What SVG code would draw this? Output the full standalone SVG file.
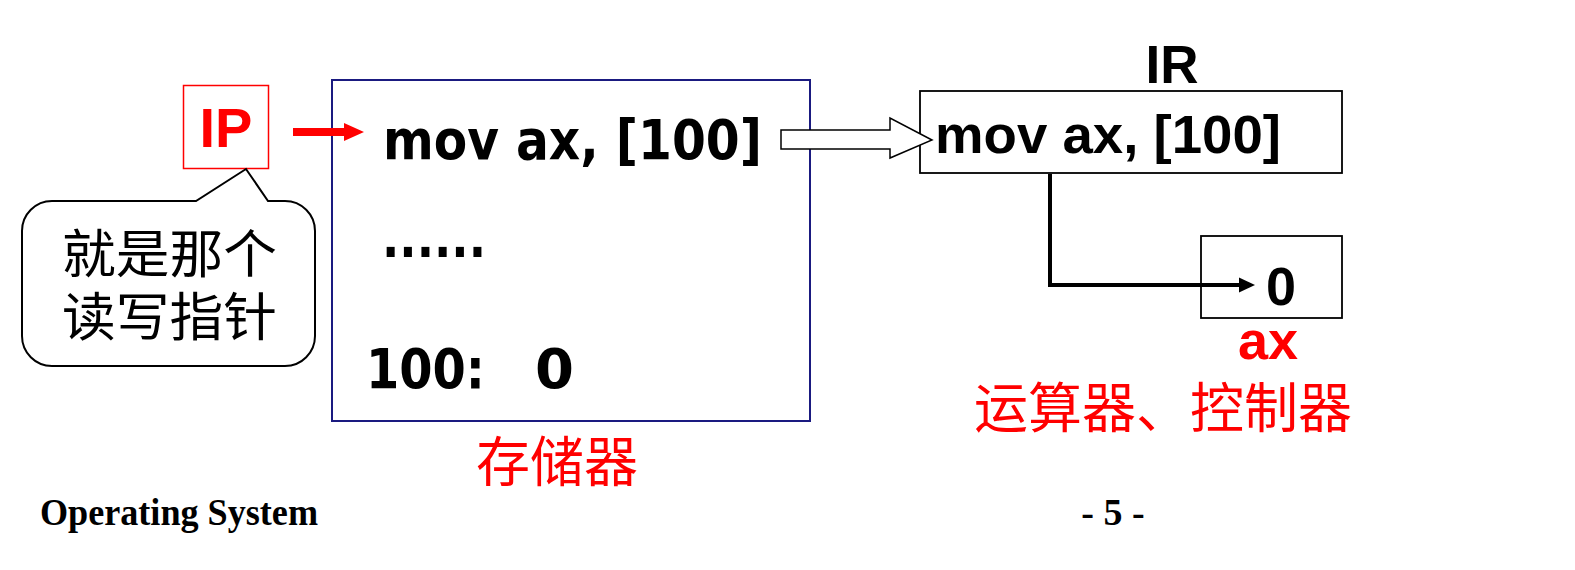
<svg xmlns="http://www.w3.org/2000/svg" width="1575" height="570" viewBox="0 0 1575 570">
<style>
.tah{font-family:"DejaVu Sans","Liberation Sans",sans-serif;font-weight:bold;fill:#000}
.ari{font-family:"Liberation Sans",Arial,sans-serif;font-weight:bold}
.cjk{font-family:"Noto Sans CJK SC","Noto Sans CJK TC",sans-serif}
.red{fill:#ff0000}
.blk{fill:#000}
</style>
<defs>
<marker id="ah" markerWidth="16" markerHeight="16" refX="0" refY="0" viewBox="0 -8 16 16" markerUnits="userSpaceOnUse" orient="auto">
<path d="M0,-7.5 L16,0 L0,7.5 Z" fill="#000"/>
</marker>
</defs>
<rect width="1575" height="570" fill="#fff"/>

<g id="ip">
<rect x="183.5" y="85.5" width="85" height="83" fill="#fff" stroke="#ff0000" stroke-width="1.5"/>
<text class="ari red" x="226" y="147" font-size="56" text-anchor="middle">IP</text>
</g>

<g id="callout">
<path d="M52,201 H196 L246,169 L268,201 H285 A30,30 0 0 1 315,231 V336 A30,30 0 0 1 285,366 H52 A30,30 0 0 1 22,336 V231 A30,30 0 0 1 52,201 Z" fill="#fff" stroke="#000" stroke-width="2"/>
<text class="cjk blk" x="62" y="273" font-size="52" textLength="215" lengthAdjust="spacingAndGlyphs">就是那个</text>
<text class="cjk blk" x="62" y="336" font-size="52" textLength="215" lengthAdjust="spacingAndGlyphs">读写指针</text>
</g>

<g id="memory">
<rect x="332" y="80" width="478" height="341" fill="#fff" stroke="#1a1a80" stroke-width="2"/>
<text class="tah" x="383" y="159" font-size="55" textLength="379" lengthAdjust="spacingAndGlyphs">mov ax, [100]</text>
<text class="tah" x="382" y="257" font-size="54" textLength="104" lengthAdjust="spacingAndGlyphs">......</text>
<text class="tah" x="366" y="388" font-size="56" textLength="119" lengthAdjust="spacingAndGlyphs">100:</text>
<text class="tah" x="535" y="388" font-size="56">0</text>
<text class="cjk red" x="476" y="482" font-size="54" textLength="162" lengthAdjust="spacingAndGlyphs">存储器</text>
</g>

<g id="ir">
<text class="ari blk" x="1172" y="83" font-size="53" text-anchor="middle">IR</text>
<rect x="920" y="91" width="422" height="82" fill="#fff" stroke="#000" stroke-width="1.8"/>
<text class="ari blk" x="935" y="153" font-size="54" textLength="346" lengthAdjust="spacingAndGlyphs">mov ax, [100]</text>
</g>

<g id="ax">
<rect x="1201" y="236" width="141" height="82" fill="#fff" stroke="#000" stroke-width="1.8"/>
<text class="ari blk" x="1281" y="305" font-size="54" text-anchor="middle">0</text>
<text class="ari red" x="1268" y="359" font-size="54" text-anchor="middle">ax</text>
<text class="cjk red" x="974" y="428" font-size="54" textLength="378" lengthAdjust="spacingAndGlyphs">运算器、控制器</text>
</g>

<g id="connectors">
<path d="M293,128 H344 V123 L364,132 L344,141 V136 H293 Z" fill="#ff0000"/>
<path d="M781,130 H890 V118 L932,140 L890,158 V149 H781 Z" fill="#fff" stroke="#000" stroke-width="1.5"/>
<path d="M1050,174 V285 H1239" fill="none" stroke="#000" stroke-width="4" marker-end="url(#ah)"/>
</g>

<g id="footer">
<text x="40" y="525" font-family="'Liberation Serif','Times New Roman',serif" font-weight="bold" font-size="38" textLength="278" lengthAdjust="spacingAndGlyphs" fill="#000">Operating System</text>
<text x="1113" y="525" font-family="'Liberation Serif','Times New Roman',serif" font-weight="bold" font-size="38" text-anchor="middle" fill="#000">- 5 -</text>
</g>
</svg>
